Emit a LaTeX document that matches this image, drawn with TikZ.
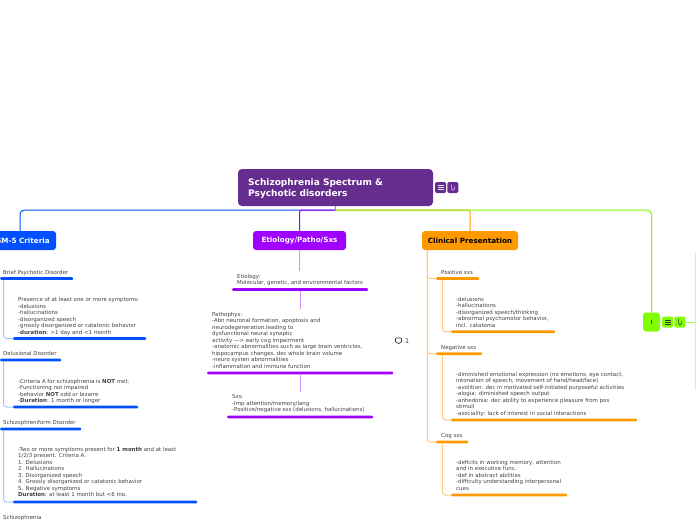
\documentclass[tikz,border=0pt]{standalone}
\usepackage{fontspec}
\setmainfont{DejaVu Sans}
\usepackage{tikz}
\usetikzlibrary{calc}
\definecolor{rootviolet}{HTML}{662D91}
\definecolor{dsmblue}{HTML}{0050FF}
\definecolor{etiopurple}{HTML}{A000FF}
\definecolor{clinorange}{HTML}{FF9900}
\definecolor{lonegreen}{HTML}{80FF00}

% small notes + link buttons beside a topic
\newcommand{\topicicons}[5]{
  \node[iconbox,fill=#2] (#1notes) at (#3,#4) {};
  \node[iconbox,fill=#2,anchor=west] (#1link) at ([xshift=1pt]#1notes.east) {};
  \foreach \dy in {-2,0,2}
    \draw[line width=0.5pt,#5] ([xshift=-3pt,yshift=\dy pt]#1notes.center) -- ([xshift=3pt,yshift=\dy pt]#1notes.center);
  \draw[line width=0.5pt,#5,rounded corners=1pt] ([xshift=-1.3pt,yshift=3pt]#1link.center) -- ([xshift=-1.3pt,yshift=-2.5pt]#1link.center) -- ([xshift=1.5pt,yshift=-2.5pt]#1link.center) -- ([xshift=1.5pt,yshift=1pt]#1link.center);
}

\begin{document}
\begin{tikzpicture}[x=1pt,y=-1pt,
  topic/.style={rectangle,rounded corners=3pt,minimum height=19pt,inner sep=0pt,
    font=\fontsize{7.2}{8}\selectfont\bfseries,text=white},
  iconbox/.style={rectangle,rounded corners=1.5pt,minimum size=11pt,inner sep=0pt},
  label/.style={anchor=west,inner sep=0pt,yshift=-0.7pt,font=\fontsize{5.45}{6.5}\selectfont,text=black!75},
  body/.style={anchor=north west,inner sep=0pt,yshift=-0.7pt,align=left,font=\fontsize{5.45}{6.5}\selectfont,text=black!75},
  bar/.style={rectangle,rounded corners=1pt,anchor=west,inner sep=0pt,minimum height=2.6pt},
  stem/.style={line width=1pt,rounded corners=4pt},
  sub/.style={line width=1pt,rounded corners=3pt},
]
  \clip (0,0) rectangle (696,520);

  % root
  \node[rectangle,rounded corners=4pt,fill=rootviolet,minimum width=195pt,minimum height=37pt,inner sep=0pt] (root) at (335.5,187.5) {};
  \node[anchor=west,inner sep=0pt,align=left,text=white,font=\fontsize{9}{11}\selectfont\bfseries] (roottext) at (248,188.5)
    {Schizophrenia Spectrum \&\\Psychotic disorders};
  \topicicons{root}{rootviolet}{440.5}{187.5}{white!90!black}

  % main topics
  \node[topic,fill=dsmblue,minimum width=72pt] (dsm) at (20,240.5) {DSM-5 Criteria};
  \node[topic,fill=etiopurple,minimum width=93pt] (etio) at (299.5,240.5) {Etiology/Patho/Sxs};
  \node[topic,fill=clinorange,minimum width=96pt,text=black] (clin) at (470,240.5) {Clinical Presentation};
  \node[topic,fill=lonegreen,minimum width=17pt,text=black,font=\fontsize{6}{8}\selectfont] (lone) at (651.5,322) {I};
  \topicicons{lone}{lonegreen}{667.5}{322}{black!80}

  \coordinate (hub) at ($(root.south)+(0,4)$);
  \draw[stem,dsmblue] (hub) -| (dsm.north);
  \draw[stem,etiopurple,rounded corners=1.5pt] (hub) -| (etio.north);
  \draw[stem,clinorange,rounded corners=1.5pt] (hub) -| (clin.north);
  \draw[stem,lonegreen] (hub) -| (lone.north);
  \draw[line width=1pt,lonegreen!60!rootviolet] (root.south) -- (hub);
  \draw[line width=1pt,lonegreen!70] (lonelink.east) -- (695.5,322) coordinate (lonefork);
  \draw[line width=1pt,lonegreen!40] (695.5,253) -- (695.5,390);

  % DSM-5 side
  \node[label] (brief) at (3,272) {Brief Psychotic Disorder};
  \node[bar,fill=dsmblue,minimum width=73pt] (briefbar) at (0,278.5) {};
  \node[body] (brieftext) at (18,296.5) {Presence of at least one or more symptoms:\\-delusions\\-hallucinations\\-disorganized speech\\-grossly disorganized or catatonic behavior\\-\textbf{duration}: >1 day and <1 month};
  \node[bar,fill=dsmblue,minimum width=133pt] (briefsub) at (13,338.5) {};
  \draw[sub,dsmblue!35] ([xshift=3.5pt]briefbar.south west) |- (briefsub.west);

  \node[label] (delu) at (3,353) {Delusional Disorder};
  \node[bar,fill=dsmblue,minimum width=61pt] (delubar) at (0,360) {};
  \node[body] (delutext) at (18,378) {-Criteria A for schizophrenia is \textbf{NOT} met.\\-Functioning not impaired\\-behavior \textbf{NOT} odd or bizarre\\-\textbf{Duration}: 1 month or longer};
  \node[bar,fill=dsmblue,minimum width=125pt] (delusub) at (13,407) {};
  \draw[sub,dsmblue!35] ([xshift=3.5pt]delubar.south west) |- (delusub.west);

  \node[label] (form) at (3,422) {Schizophreniform Disorder};
  \node[bar,fill=dsmblue,minimum width=81pt] (formbar) at (0,429) {};
  \node[body] (formtext) at (18,446) {-Two or more symptoms present for \textbf{1 month} and at least\\1/2/3 present. Criteria A.\\1. Delusions\\2. Hallucinations\\3. Disorganized speech\\4. Grossly disorganized or catatonic behavior\\5. Negative symptoms\\\textbf{Duration}: at least 1 month but <6 mo.};
  \node[bar,fill=dsmblue,minimum width=184pt] (formsub) at (13,502) {};
  \draw[sub,dsmblue!35] ([xshift=3.5pt]formbar.south west) |- (formsub.west);

  \node[label] (schiz) at (3,517) {Schizophrenia};

  % etiology side
  \node[body] (etiotext) at (237,273) {Etiology:\\Molecular, genetic, and environmental factors};
  \node[bar,fill=etiopurple,minimum width=136pt] (etiobar) at (232,289.5) {};
  \node[body] (pathtext) at (212,311) {Pathophys:\\-Abn neuronal formation, apoptosis and\\neurodegeneration,leading to\\dysfunctional neural synaptic\\activity ---> early cog impairment\\-anatomic abnormalities such as large brain ventricles,\\hippocampus changes, dec whole brain volume\\-neuro systen abnormalities\\-inflammation and immune function};
  \node[bar,fill=etiopurple,minimum width=186pt] (pathbar) at (207,373) {};
  \node[body] (sxstext) at (232,394) {Sxs:\\-Imp attention/memory/lang\\-Positive/negative sxs (delusions, hallucinations)};
  \node[bar,fill=etiopurple,minimum width=146pt] (sxsbar) at (227,417) {};
  \draw[line width=1pt,etiopurple!45,shorten >=3pt] (etio.south) -- (etio.south |- etiotext.north);
  \draw[line width=1pt,etiopurple!45,shorten >=3pt] (etiobar.south) -- (etiobar.south |- pathtext.north);
  \draw[line width=1pt,etiopurple!45,shorten >=3pt] (pathbar.south) -- (pathbar.south |- sxstext.north);

  % comment marker
  \draw[line width=0.6pt,black!80,rounded corners=0.8pt] (395.5,338) -- (401.5,338) -- (401.5,342.5) -- (399.5,342.5) -- (399,344) -- (397.5,342.5) -- (395.5,342.5) -- cycle;
  \node[label,font=\fontsize{6.5}{8}\selectfont] (comment) at (405,340.5) {1};

  % clinical side
  \node[label] (pos) at (441,272) {Positive sxs};
  \node[bar,fill=clinorange,minimum width=43pt] (posbar) at (436,278.5) {};
  \node[body] (postext) at (456,296) {-delusions\\-hallucinations\\-disorganized speech/thinking\\-abnormal psychomotor behavior,\\incl. catatonia};
  \node[bar,fill=clinorange,minimum width=104pt] (possub) at (451,331.7) {};

  \node[label] (neg) at (441,347) {Negative sxs};
  \node[bar,fill=clinorange,minimum width=46pt] (negbar) at (436,353.7) {};
  \node[body] (negtext) at (456,371) {-diminished emotional expression (no emotions, eye contact,\\intonation of speech, movement of hand/head/face)\\-avolition: dec in motivated self-initiated purposeful activities\\-alogia: diminished speech output\\-anhedonia: dec ability to experience pleasure from pos\\stimuli\\-asociality: lack of interest in social interactions};
  \node[bar,fill=clinorange,minimum width=186pt] (negsub) at (451,420) {};

  \node[label] (cog) at (441,435) {Cog sxs};
  \node[bar,fill=clinorange,minimum width=32pt] (cogbar) at (436,442) {};
  \node[body] (cogtext) at (456,459) {-deficits in working memory, attention\\and in executive func.\\-def in abstract abilities\\-difficulty understanding interpersonal\\cues};
  \node[bar,fill=clinorange,minimum width=116pt] (cogsub) at (451,495) {};

  \foreach \bar in {posbar,negbar,cogbar}
    \draw[sub,clinorange!50] ([xshift=5.5pt]clin.south west) |- (\bar.west);
  \draw[sub,clinorange!50] ([xshift=6.5pt]posbar.south west) |- (possub.west);
  \draw[sub,clinorange!50] ([xshift=6.5pt]negbar.south west) |- (negsub.west);
  \draw[sub,clinorange!50] ([xshift=6.5pt]cogbar.south west) |- (cogsub.west);
\end{tikzpicture}
\end{document}
